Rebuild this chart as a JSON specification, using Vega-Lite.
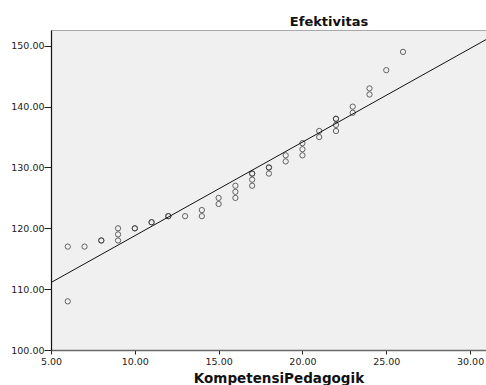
{
  "$schema": "https://vega.github.io/schema/vega-lite/v6.json",
  "autosize": "none",
  "padding": {"left": 51, "top": 30, "right": 0, "bottom": 35},
  "width": 435,
  "height": 320,
  "background": "white",
  "config": {
    "view": {"fill": "#f0f0f0", "stroke": "#a8a8a8", "strokeWidth": 1},
    "axis": {"labelFont": "DejaVu Sans", "labelFontSize": 9.5, "labelColor": "#222", "titleFont": "DejaVu Sans", "titleFontSize": 13.5, "titleFontWeight": "bold", "titleColor": "#111", "grid": false, "tickColor": "#222"}
  },
  "data": {"values": [
    {"KompetensiPedagogik": 6, "Efektivitas": 117},
    {"KompetensiPedagogik": 6, "Efektivitas": 108},
    {"KompetensiPedagogik": 7, "Efektivitas": 117},
    {"KompetensiPedagogik": 8, "Efektivitas": 118},
    {"KompetensiPedagogik": 8, "Efektivitas": 118},
    {"KompetensiPedagogik": 9, "Efektivitas": 120},
    {"KompetensiPedagogik": 9, "Efektivitas": 119},
    {"KompetensiPedagogik": 9, "Efektivitas": 118},
    {"KompetensiPedagogik": 10, "Efektivitas": 120},
    {"KompetensiPedagogik": 10, "Efektivitas": 120},
    {"KompetensiPedagogik": 11, "Efektivitas": 121},
    {"KompetensiPedagogik": 11, "Efektivitas": 121},
    {"KompetensiPedagogik": 12, "Efektivitas": 122},
    {"KompetensiPedagogik": 12, "Efektivitas": 122},
    {"KompetensiPedagogik": 13, "Efektivitas": 122},
    {"KompetensiPedagogik": 14, "Efektivitas": 123},
    {"KompetensiPedagogik": 14, "Efektivitas": 122},
    {"KompetensiPedagogik": 15, "Efektivitas": 125},
    {"KompetensiPedagogik": 15, "Efektivitas": 124},
    {"KompetensiPedagogik": 16, "Efektivitas": 127},
    {"KompetensiPedagogik": 16, "Efektivitas": 126},
    {"KompetensiPedagogik": 16, "Efektivitas": 125},
    {"KompetensiPedagogik": 17, "Efektivitas": 129},
    {"KompetensiPedagogik": 17, "Efektivitas": 129},
    {"KompetensiPedagogik": 17, "Efektivitas": 128},
    {"KompetensiPedagogik": 17, "Efektivitas": 127},
    {"KompetensiPedagogik": 18, "Efektivitas": 130},
    {"KompetensiPedagogik": 18, "Efektivitas": 130},
    {"KompetensiPedagogik": 18, "Efektivitas": 129},
    {"KompetensiPedagogik": 19, "Efektivitas": 132},
    {"KompetensiPedagogik": 19, "Efektivitas": 131},
    {"KompetensiPedagogik": 20, "Efektivitas": 134},
    {"KompetensiPedagogik": 20, "Efektivitas": 133},
    {"KompetensiPedagogik": 20, "Efektivitas": 132},
    {"KompetensiPedagogik": 21, "Efektivitas": 136},
    {"KompetensiPedagogik": 21, "Efektivitas": 135},
    {"KompetensiPedagogik": 22, "Efektivitas": 138},
    {"KompetensiPedagogik": 22, "Efektivitas": 138},
    {"KompetensiPedagogik": 22, "Efektivitas": 137},
    {"KompetensiPedagogik": 22, "Efektivitas": 136},
    {"KompetensiPedagogik": 23, "Efektivitas": 140},
    {"KompetensiPedagogik": 23, "Efektivitas": 139},
    {"KompetensiPedagogik": 24, "Efektivitas": 143},
    {"KompetensiPedagogik": 24, "Efektivitas": 142},
    {"KompetensiPedagogik": 25, "Efektivitas": 146},
    {"KompetensiPedagogik": 26, "Efektivitas": 149}
  ]},
  "encoding": {
    "x": {"field": "KompetensiPedagogik", "type": "quantitative",
      "scale": {"domain": [5, 30.95], "nice": false, "zero": false},
      "axis": {"values": [5, 10, 15, 20, 25, 30], "format": ".2f", "tickSize": 4, "labelPadding": 2, "domainColor": "#6a6a6a", "domainWidth": 1.5, "labelFlush": false,
        "title": "KompetensiPedagogik", "titleX": 227.5, "titleY": 32, "titleBaseline": "alphabetic", "titleAnchor": null}},
    "y": {"field": "Efektivitas", "type": "quantitative",
      "scale": {"domain": [100, 152.6], "nice": false, "zero": false},
      "axis": {"values": [100, 110, 120, 130, 140, 150], "format": ".2f", "tickSize": 7, "labelPadding": 0, "domainColor": "#111", "domainWidth": 1.2, "labelFlush": false,
        "title": "Efektivitas", "titleAngle": 0, "titleAlign": "center", "titleBaseline": "alphabetic", "titleX": 277.5, "titleY": -5, "titleFontSize": 13}}
  },
  "layer": [
    {"mark": {"type": "point", "shape": "circle", "filled": false, "stroke": "#333", "strokeWidth": 1, "size": 28, "opacity": 0.75}},
    {"transform": [{"regression": "Efektivitas", "on": "KompetensiPedagogik", "extent": [5, 30.95]}],
     "mark": {"type": "line", "color": "#111", "strokeWidth": 1, "clip": true}}
  ]
}
